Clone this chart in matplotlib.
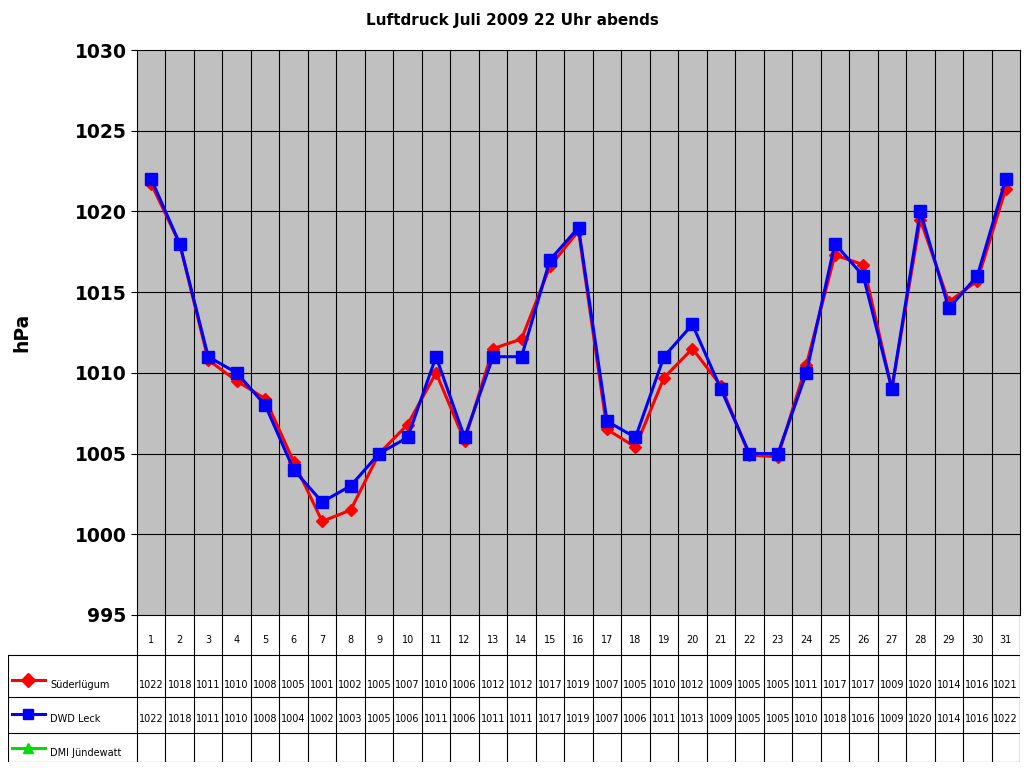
import matplotlib
matplotlib.use("Agg")
import matplotlib.pyplot as plt
import numpy as np

days = list(range(1, 32))
sued = [1021.7,1018.0,1010.8,1009.5,1008.4,1004.5,1000.8,1001.5,1005.0,1006.8,1010.0,1005.8,1011.5,1012.1,1016.6,
        1018.8,1006.5,1005.4,1009.7,1011.5,1009.2,1004.9,1004.8,1010.5,1017.3,1016.7,1009.0,1019.5,1014.4,1015.7,1021.4]
dwd = [1022,1018,1011,1010,1008,1004,1002,1003,1005,1006,1011,1006,1011,1011,1017,1019,1007,1006,1011,1013,1009,
       1005,1005,1010,1018,1016,1009,1020,1014,1016,1022]
sued_lbl = [1022,1018,1011,1010,1008,1005,1001,1002,1005,1007,1010,1006,1012,1012,1017,1019,1007,1005,1010,1012,
            1009,1005,1005,1011,1017,1017,1009,1020,1014,1016,1021]
series_names = ["Süderlügum", "DWD Leck", "DMI Jündewatt"]

W, H = 1024, 768
fig = plt.figure(figsize=(W/100, H/100), dpi=100)
L, R, T, B = 137, 1020, 50, 615
ax = fig.add_axes([L/W, 1-B/H, (R-L)/W, (B-T)/H])
ax.set_facecolor("#c0c0c0")
ax.set_xlim(0.5, 31.5)
ax.set_ylim(995, 1030)
ax.set_yticks(range(995, 1031, 5))
ax.set_xticks([])
for x in np.arange(1.5, 31.5, 1):
    ax.axvline(x, color="black", lw=0.8, zorder=1)
for y in range(1000, 1030, 5):
    ax.axhline(y, color="black", lw=0.8, zorder=1)
ax.plot(days, sued, color="red", lw=2.2, marker="D", ms=6.5, zorder=3)
ax.plot(days, dwd, color="blue", lw=2.2, marker="s", ms=8, zorder=4)
ax.tick_params(axis="y", labelsize=13.5, length=4)
for t in ax.get_yticklabels():
    t.set_fontweight("bold")
for s in ax.spines.values():
    s.set_color("black")
fig.text(22/W, 1-332/H, "hPa", rotation=90, ha="center", va="center",
         fontsize=13.5, fontweight="bold")
fig.text(0.5, 1-20/H, "Luftdruck Juli 2009 22 Uhr abends", ha="center", va="center",
         fontsize=11, fontweight="bold")

# table
tx0, ty1 = 8, 762
tab = fig.add_axes([tx0/W, 1-ty1/H, (R-tx0)/W, (ty1-B)/H])
tab.set_xlim(tx0, R)
tab.set_ylim(ty1, B)
tab.axis("off")
cw = (R-L)/31
rows = [655, 697, 733, 762]
for i in range(32):
    x = L + i*cw
    tab.plot([x, x], [B, ty1], color="black", lw=0.8)
tab.plot([tx0, tx0], [rows[0], ty1], color="black", lw=0.8)
tab.plot([R, R], [B, ty1], color="black", lw=0.8)
for y in rows:
    tab.plot([tx0, R], [y, y], color="black", lw=0.8)
for i, d in enumerate(days):
    cx = L + (i+0.5)*cw
    tab.text(cx, 640, str(d), ha="center", va="center", fontsize=7)
    tab.text(cx, 685, str(sued_lbl[i]), ha="center", va="center", fontsize=7)
    tab.text(cx, 719, str(dwd[i]), ha="center", va="center", fontsize=7)
cols = ["red", "blue", "#00dd00"]
mk = ["D", "s", "^"]
ys = [680, 714, 748]
for n, c, m, y in zip(series_names, cols, mk, ys):
    tab.plot([12, 45], [y, y], color=c, lw=2.2)
    tab.plot([28], [y], color=c, marker=m, ms=7)
    tab.text(50, y+5, n, ha="left", va="center", fontsize=7)

fig.savefig("out.png", dpi=100)
